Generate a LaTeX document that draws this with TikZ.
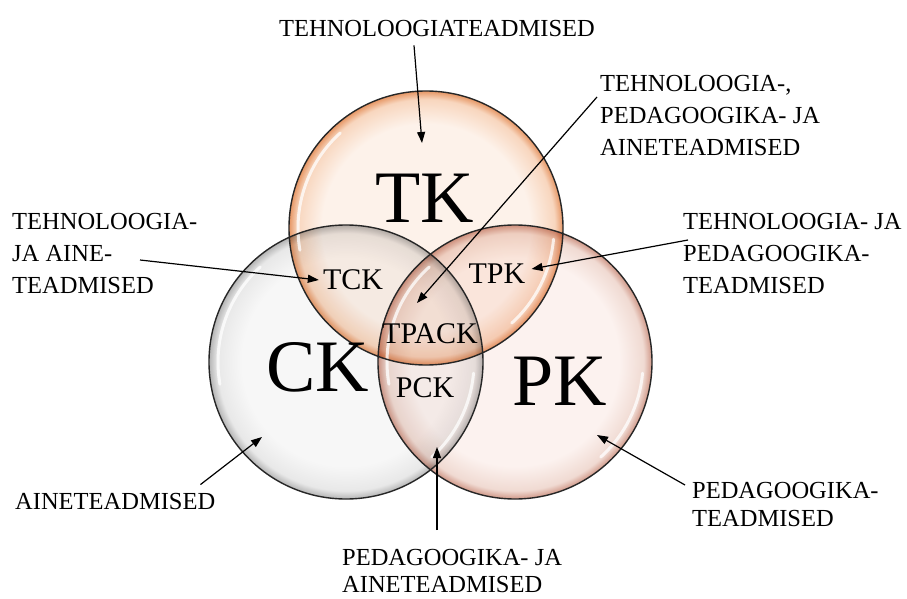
\documentclass[tikz,border=0pt]{standalone}
\usepackage{fontspec}
\setmainfont{Liberation Serif}
\usetikzlibrary{arrows.meta}

% colours of the three bubbles
\definecolor{tkin}{RGB}{253,242,234}
\definecolor{tkmid}{RGB}{248,214,190}
\definecolor{tkrim}{RGB}{230,150,100}
\definecolor{ckin}{RGB}{247,247,247}
\definecolor{ckmid}{RGB}{232,232,232}
\definecolor{ckrim}{RGB}{180,180,180}
\definecolor{pkin}{RGB}{252,242,239}
\definecolor{pkmid}{RGB}{240,218,210}
\definecolor{pkrim}{RGB}{208,152,136}

% the path fills the inner 50bp square, so the rim lies at 25bp
\pgfdeclareradialshading{tkglass}{\pgfpoint{0bp}{0bp}}{color(0bp)=(tkin); color(19bp)=(tkin); color(23.5bp)=(tkmid); color(25bp)=(tkrim); color(50bp)=(tkrim)}
\pgfdeclareradialshading{ckglass}{\pgfpoint{0bp}{0bp}}{color(0bp)=(ckin); color(19bp)=(ckin); color(23.5bp)=(ckmid); color(25bp)=(ckrim); color(50bp)=(ckrim)}
\pgfdeclareradialshading{pkglass}{\pgfpoint{0bp}{0bp}}{color(0bp)=(pkin); color(19bp)=(pkin); color(23.5bp)=(pkmid); color(25bp)=(pkrim); color(50bp)=(pkrim)}

\tikzset{
  lbl/.style={font=\fontsize{24.5}{32}\selectfont, inner sep=0pt, align=left},
  bigk/.style={font=\fontsize{74}{80}\selectfont, inner sep=0pt},
  midk/.style={font=\fontsize{30}{34}\selectfont, inner sep=0pt},
  pointer/.style={-{Triangle[length=11pt,width=8pt]}, line width=1.2pt},
  gloss/.style={white, line width=3pt, line cap=round, opacity=0.75},
  rim/.style={line width=1.4pt, draw=black!85}
}

\begin{document}
\begin{tikzpicture}[x=1pt,y=1pt]
	\useasboundingbox (0,0) rectangle (907,598);
	% centres of the bubbles
	\coordinate (TKc) at (426,370);
	\coordinate (CKc) at (346,236);
	\coordinate (PKc) at (515,236);

	% bubbles, mixed by multiply
	\begin{scope}[blend mode=multiply]
		\shade[shading=tkglass] (TKc) circle (137pt);
		\shade[shading=ckglass] (CKc) circle (137pt);
		\shade[shading=pkglass] (PKc) circle (137pt);
	\end{scope}
	% glossy reflections
	\foreach \c in {TKc,CKc,PKc}{
		\draw[gloss] (\c) ++(132:128) arc[start angle=132,end angle=190,radius=128];
		\draw[gloss] (\c) ++(-48:128) arc[start angle=-48,end angle=-5,radius=128];
	}
	% outlines
	\foreach \c in {TKc,CKc,PKc}
		\draw[rim] (\c) circle (137pt);

	% region names
	\node[bigk] (TK) at (425,400) {TK};
	\node[bigk] (CK) at (318,231) {CK};
	\node[bigk] (PK) at (560,217) {PK};
	\node[midk] (TCK) at (353,318) {TCK};
	\node[midk] (TPK) at (497,324) {TPK};
	\node[midk] (TPACK) at (430,264) {TPACK};
	\node[midk] (PCK) at (425,210) {PCK};

	% explanations
	\node[lbl] (lblTK) at (437,569) {TEHNOLOOGIATEADMISED};
	\node[lbl, anchor=north west] (lblTPACK) at (600,523) {TEHNOLOOGIA-,\\PEDAGOOGIKA- JA\\AINETEADMISED};
	\node[lbl, anchor=north west] (lblTCK) at (12,385) {TEHNOLOOGIA-\\JA AINE-\\TEADMISED};
	\node[lbl, anchor=north west] (lblTPK) at (683,385) {TEHNOLOOGIA- JA\\PEDAGOOGIKA-\\TEADMISED};
	\node[lbl, anchor=west] (lblCK) at (15,96) {AINETEADMISED};
	\node[lbl, anchor=north west] (lblPK) at (692,116) {PEDAGOOGIKA-\\[-4pt]TEADMISED};
	\node[lbl, anchor=north west] (lblPCK) at (342,49) {PEDAGOOGIKA- JA\\[-5pt]AINETEADMISED};

	% arrow tips
	\coordinate (tipTK) at (422,455);
	\coordinate (tipTPACK) at (417,295);
	\coordinate (tipCK) at (262,161);
	\coordinate (tipPCK) at (437,151);
	\coordinate (tipPK) at (597,163);

	\draw[pointer] ([xshift=-23pt,yshift=-8pt]lblTK.south) -- (tipTK);
	\draw[pointer] ([xshift=-3pt,yshift=-22pt]lblTPACK.north west) -- (tipTPACK);
	\draw[pointer] ([xshift=128pt,yshift=-47pt]lblTCK.north west) -- ([xshift=-4pt]TCK.west);
	\draw[pointer] ([xshift=5pt,yshift=-27pt]lblTPK.north west) -- ([xshift=6pt,yshift=5pt]TPK.east);
	\draw[pointer] ([xshift=-15pt,yshift=9pt]lblCK.north east) -- (tipCK);
	\draw[pointer] ([xshift=95pt,yshift=19pt]lblPCK.north west) -- (tipPCK);
	\draw[pointer] ([xshift=-7pt,yshift=-3pt]lblPK.north west) -- (tipPK);
\end{tikzpicture}
\end{document}
